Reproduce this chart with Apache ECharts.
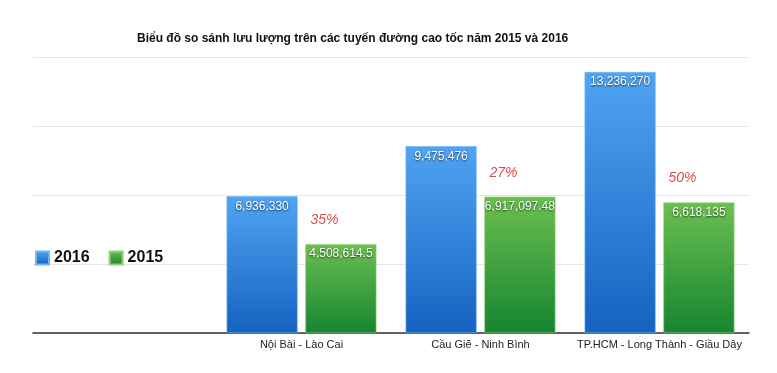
<!DOCTYPE html>
<html>
<head>
<meta charset="utf-8">
<script src="https://cdn.jsdelivr.net/npm/echarts@6/dist/echarts.min.js"></script>
<style>html,body{margin:0;padding:0;background:#fff}#c{width:777px;height:373px}</style>
</head>
<body>
<div id="c"></div>
<script>
var titleText = 'Biểu đồ so sánh lưu lượng trên các tuyến đường cao tốc năm 2015 và 2016';
var categories = ['', 'Nội Bài - Lào Cai', 'Cầu Giẽ - Ninh Bình', 'TP.HCM - Long Thành - Giầu Dây'];
var values2016 = ['-', 6936330, 9475476, 13236270];
var values2015 = ['-', 4508614.5, 6917097.48, 6618135];
var pctLabels = ['', '35%', '27%', '50%'];

function fmt(v) {
  return Number(v).toLocaleString('en-US', {maximumFractionDigits: 2});
}
var chart = echarts.init(document.getElementById('c'));
var lblStyle = {
  show: true, position: 'insideTop', distance: 4, color: '#fff',
  fontFamily: 'Liberation Sans, Arial, sans-serif', fontSize: 12,
  textShadowColor: 'rgba(0,0,0,0.7)', textShadowBlur: 2, textShadowOffsetY: 1,
  formatter: function (p) { return fmt(p.value); }
};
var pctData = values2015.map(function (v, i) { return pctLabels[i] ? [i, v] : null; }).filter(Boolean);
chart.setOption({
  animation: false,
  title: {
    text: titleText, left: 132, top: 28,
    textStyle: {fontFamily: 'Liberation Sans, Arial, sans-serif', fontSize: 12, fontWeight: 'bold', color: '#111'}
  },
  legend: {
    data: ['2016', '2015'], left: 30, top: 245, icon: 'rect', itemWidth: 13, itemHeight: 13,
    itemGap: 19,
    textStyle: {fontFamily: 'Liberation Sans, Arial, sans-serif', fontSize: 16, fontWeight: 'bold', color: '#111'}
  },
  grid: {left: 33, right: 28, top: 57, bottom: 40},
  xAxis: {
    type: 'category', data: categories,
    axisLine: {lineStyle: {color: '#333', width: 1.5}},
    axisTick: {show: false},
    axisLabel: {interval: 0, color: '#222', fontSize: 11, margin: 6, fontFamily: 'Liberation Sans, Arial, sans-serif'}
  },
  yAxis: {
    type: 'value', min: 0, max: 14000000, interval: 3500000,
    axisLabel: {show: false}, axisLine: {show: false}, axisTick: {show: false},
    splitLine: {lineStyle: {color: '#e6e6e6'}}
  },
  series: [
    {
      name: '2016', type: 'bar', data: values2016, barWidth: 71, barGap: '11%',
      itemStyle: {
        color: new echarts.graphic.LinearGradient(0, 0, 0, 1, [{offset: 0, color: '#50a4f3'}, {offset: 1, color: '#1562c0'}]),
        borderColor: '#6fb6f5', borderWidth: 0.6
      },
      label: lblStyle
    },
    {
      name: '2015', type: 'bar', data: values2015, barWidth: 71,
      itemStyle: {
        color: new echarts.graphic.LinearGradient(0, 0, 0, 1, [{offset: 0, color: '#6cbf50'}, {offset: 1, color: '#168530'}]),
        borderColor: '#8fd077', borderWidth: 0.6
      },
      label: lblStyle
    },
    {
      name: 'pct', type: 'scatter', data: pctData, symbolSize: 0, silent: true,
      label: {
        show: true, position: 'top', distance: 5, offset: [23, -12],
        color: '#c8241a', fontStyle: 'italic', fontSize: 14,
        fontFamily: 'Liberation Sans, Arial, sans-serif',
        formatter: function (p) { return pctLabels[p.value[0]]; }
      }
    }
  ]
});
</script>
</body>
</html>
